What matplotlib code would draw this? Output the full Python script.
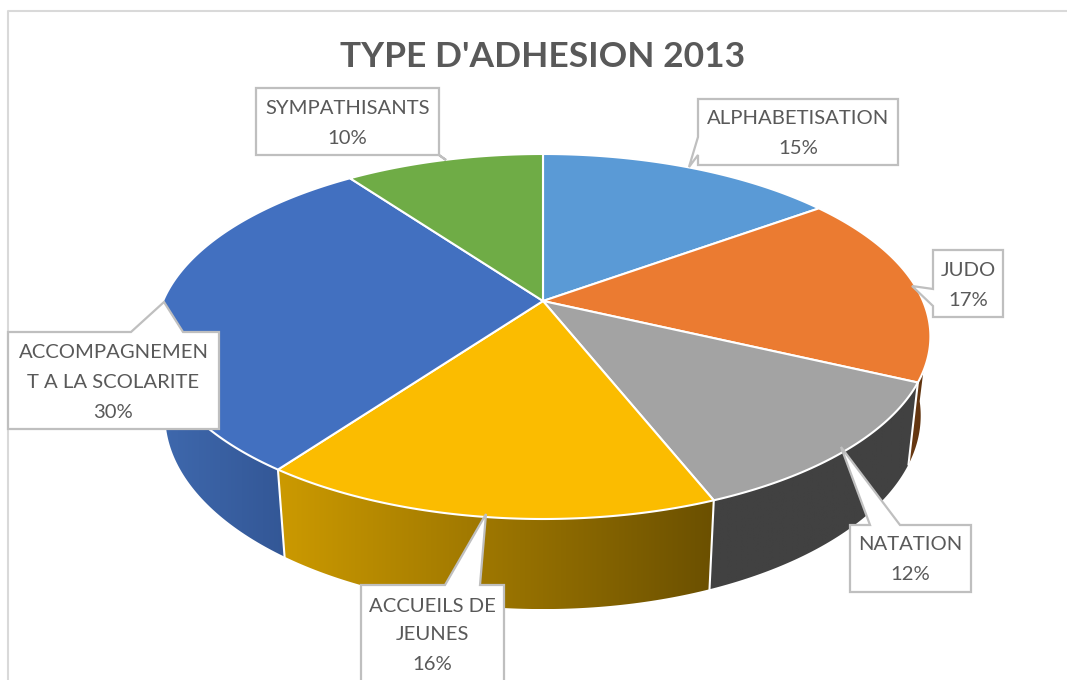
import numpy as np
import matplotlib
matplotlib.use('Agg')
import matplotlib.pyplot as plt
from matplotlib.colors import LinearSegmentedColormap
from matplotlib.patches import Polygon

plt.rcParams['font.family'] = ['Lato', 'DejaVu Sans']

# Chart data
title = "TYPE D'ADHESION 2013"
categories = ['ALPHABETISATION', 'JUDO', 'NATATION', 'ACCUEILS DE\nJEUNES',
              'ACCOMPAGNEMEN\nT A LA SCOLARITE', 'SYMPATHISANTS']
values = [15, 17, 12, 16, 30, 10]
top_colors = ['#5A9AD6', '#EB7B31', '#A3A3A3', '#FBBC00', '#4270C0', '#6FAC46']
side_left = ['#5B9BD5', '#6A3A12', '#414141', '#CC9A00', '#3F69AE', '#70AD47']
side_right = ['#5B9BD5', '#5A2F0E', '#414141', '#6B5000', '#335796', '#70AD47']

TEXT = '#595959'
BOX_EDGE = '#BFBFBF'

# label box: left, top, right, bottom, then the callout (start, tip, end)
boxes = [
    (698, 99, 898, 165, (698, 137), (689, 167), (698, 155)),
    (933, 250, 1003, 317, (933, 289), (912, 286), (933, 306)),
    (850, 525, 971, 592, (870, 525), (841, 447), (900, 525)),
    (361, 585, 504, 690, (445, 585), (486, 514), (480, 585)),
    (8, 332, 219, 429, (131, 332), (164, 302), (183, 332)),
    (256, 88, 439, 155, (361, 155), (446, 160), (408, 155)),
]
label_y = [
    [119, 148],
    [270, 301],
    [545, 575],
    [606, 635, 665],
    [353, 383, 413],
    [108, 138],
]

# perspective of the disc, in pixels of the output
cx, cy = 543, 301
a, b, k = 380, 175.6, 0.1945
side_drop, side_sx, side_sy = 378, 0.975, 1.06
visible = (97, 284)  # range of angle where the rim can be seen


def top_xy(deg):
    t = np.radians(deg)
    d = 1 + k * np.cos(t)
    return cx + a * np.sin(t) / d, cy - b * np.cos(t) / d


def bottom_xy(deg):
    x, y = top_xy(deg)
    return cx + side_sx * (x - cx), side_drop + side_sy * (y - cy)


fig = plt.figure(figsize=(10.67, 6.80), dpi=100)
ax = fig.add_axes([0, 0, 1, 1])
ax.axis('off')

# chart frame
ax.plot([8, 8, 1067], [680, 11, 11], color='#D9D9D9', lw=1.5, zorder=1)

edges = np.cumsum([0] + values) / sum(values) * 360

# rim of the slices, with a horizontal gradient
for i in range(len(values)):
    lo = max(edges[i], visible[0])
    hi = min(edges[i + 1], visible[1])
    if lo >= hi:
        continue
    th = np.linspace(lo, hi, 80)
    tx, ty = top_xy(th)
    bx, by = bottom_xy(th)
    pts = np.vstack([np.column_stack([tx, ty]), np.column_stack([bx, by])[::-1]])
    poly = Polygon(pts, closed=True, fc='none', ec='none', zorder=2)
    ax.add_patch(poly)
    cmap = LinearSegmentedColormap.from_list('s', [side_left[i], side_right[i]])
    im = ax.imshow(np.linspace(0, 1, 256).reshape(1, -1), cmap=cmap, aspect='auto',
                   extent=[pts[:, 0].min(), pts[:, 0].max(), pts[:, 1].max(), pts[:, 1].min()],
                   zorder=2)
    im.set_clip_path(poly)
    # white seam between two slices
    if edges[i] >= visible[0]:
        x0, y0 = top_xy(edges[i])
        x1, y1 = bottom_xy(edges[i])
        ax.plot([x0, x1], [y0, y1], color='white', lw=1.5, zorder=3)

# top of the pie
for i in range(len(values)):
    th = np.linspace(edges[i], edges[i + 1], 120)
    tx, ty = top_xy(th)
    pts = np.vstack([[cx, cy], np.column_stack([tx, ty])])
    ax.add_patch(Polygon(pts, closed=True, fc=top_colors[i], ec='white', lw=1.5,
                         joinstyle='round', zorder=4))

# data labels
for i, (l, t, r, bt, p0, tip, p1) in enumerate(boxes):
    # insert the callout on the side it leaves from
    if tip[1] < t:
        outline = [(l, t), p0, tip, p1, (r, t), (r, bt), (l, bt)]
    elif tip[0] < l:
        outline = [(l, t), (r, t), (r, bt), (l, bt), p1, tip, p0]
    elif tip[0] > r:
        outline = [(l, t), (r, t), (r, p0[1]), tip, (r, p1[1]), (r, bt), (l, bt)]
    else:
        outline = [(l, t), (r, t), (r, bt), p1, tip, p0, (l, bt)]
    ax.add_patch(Polygon(outline, closed=True, fc='white', ec=BOX_EDGE, lw=1.6,
                         joinstyle='miter', zorder=5))
    lines = categories[i].split('\n') + [f'{values[i]}%']
    for line, y in zip(lines, label_y[i]):
        ax.text((l + r) / 2, y, line, ha='center', va='center', fontsize=14.6,
                color=TEXT, zorder=6)

ax.text(543, 57, title, ha='center', va='center', fontsize=25.5, fontweight='bold',
        color=TEXT, zorder=6)

ax.set_xlim(0, 1067)
ax.set_ylim(680, 0)
fig.savefig('out.png', dpi=100, facecolor='white')
